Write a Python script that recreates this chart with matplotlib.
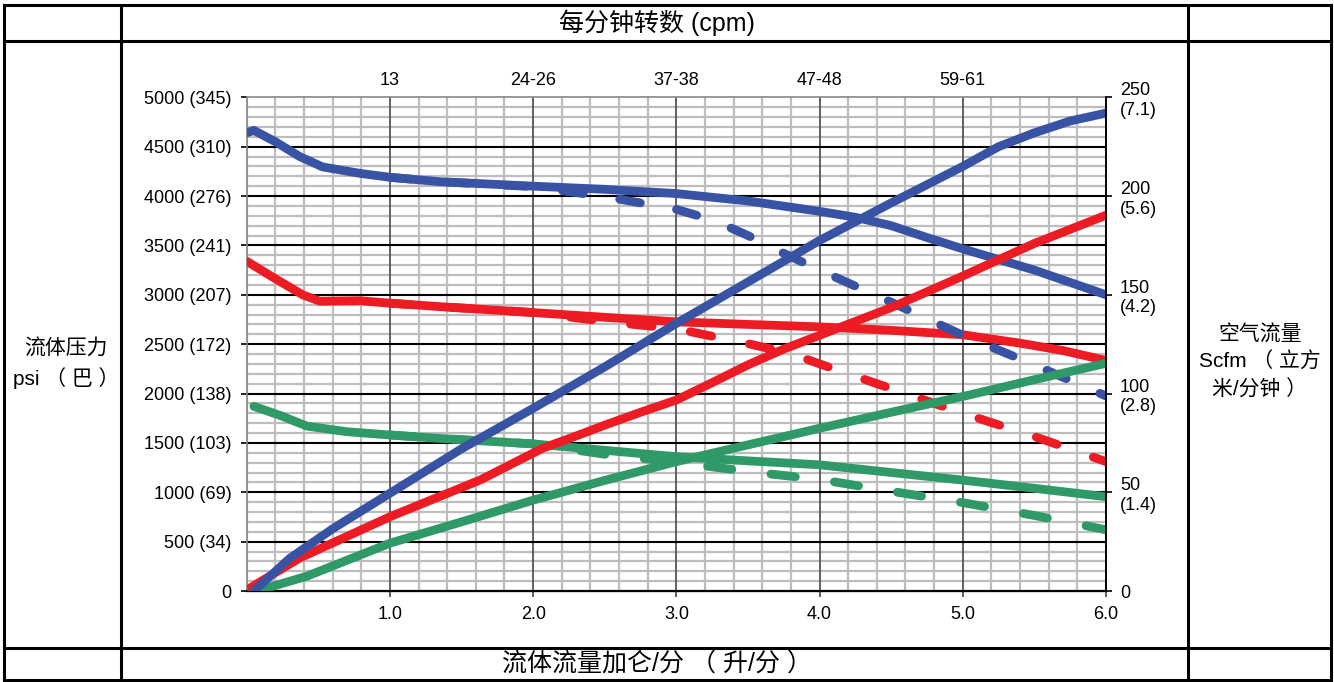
import numpy as np
import matplotlib.pyplot as plt
from matplotlib.lines import Line2D
from matplotlib.ticker import MultipleLocator

plt.rcParams['font.family'] = ['Liberation Sans', 'Noto Sans CJK SC']

W, H = 1334, 682

# fluid pressure curves, psi (solid / dashed)
blue_p_x = [0, 0.05, 0.2, 0.37, 0.53, 0.79, 1.0, 1.35, 2.0, 2.5, 3.0, 3.5, 4.0, 4.25, 4.5, 4.75, 5.0, 5.5, 6.0]
blue_p = [4640, 4665, 4550, 4400, 4295, 4230, 4190, 4145, 4100, 4068, 4025, 3950, 3845, 3785, 3700, 3580, 3465, 3250, 3000]
blue_pd_x = [1.0, 1.35, 2.0, 2.5, 3.0, 3.25, 3.5, 3.75, 4.0, 4.5, 5.0, 5.5, 6.0]
blue_pd = [4190, 4145, 4095, 3995, 3865, 3760, 3600, 3420, 3250, 2925, 2590, 2290, 1975]

red_p_x = [0, 0.18, 0.39, 0.51, 0.79, 1.0, 1.35, 2.0, 2.5, 3.0, 3.5, 4.0, 4.5, 5.0, 5.4, 5.7, 6.0]
red_p = [3340, 3180, 3000, 2935, 2940, 2915, 2880, 2820, 2772, 2726, 2700, 2675, 2640, 2595, 2510, 2435, 2335]
red_pd_x = [1.0, 1.35, 2.0, 2.5, 3.0, 3.5, 3.8, 4.0, 4.5, 5.0, 5.5, 6.0]
red_pd = [2915, 2880, 2820, 2730, 2655, 2505, 2405, 2300, 2050, 1800, 1565, 1310]

green_p_x = [0.05, 0.23, 0.42, 0.7, 1.0, 1.35, 2.0, 2.5, 3.0, 3.5, 4.0, 4.5, 5.0, 5.5, 6.0]
green_p = [1870, 1780, 1670, 1613, 1580, 1545, 1490, 1425, 1360, 1318, 1278, 1200, 1123, 1040, 955]
green_pd_x = [1.0, 1.35, 2.0, 2.5, 3.0, 3.5, 4.0, 4.5, 5.0, 5.5, 6.0]
green_pd = [1580, 1545, 1490, 1385, 1305, 1210, 1130, 1010, 895, 765, 620]

# air flow curves, scfm
blue_a_x = [0.05, 0.3, 0.6, 1.0, 1.5, 2.0, 2.5, 3.0, 3.5, 4.0, 4.5, 5.0, 5.25, 5.5, 5.75, 6.0]
blue_a = [0, 16.5, 31.5, 49.5, 72, 92.5, 113.5, 135.5, 156.5, 177.5, 196.5, 215, 225, 232, 238, 242]
red_a_x = [0, 0.37, 1.0, 1.63, 2.07, 2.3, 2.5, 2.75, 3.0, 3.25, 3.5, 3.75, 4.0, 4.5, 5.0, 5.5, 6.0]
red_a = [0.5, 16.7, 37.6, 56.2, 72.4, 78.5, 84, 90.5, 96.7, 105.5, 114.5, 122.5, 129.5, 143.5, 159.5, 176, 190.3]
green_a_x = [0.07, 0.42, 1.0, 1.5, 2.0, 2.5, 3.0, 3.5, 4.0, 4.5, 5.0, 5.5, 6.0]
green_a = [0, 7.5, 24.2, 35, 46, 56, 65.5, 74, 82.4, 90.5, 98.5, 107, 115.3]

x_ticks = [1, 2, 3, 4, 5, 6]
x_labels = ['1.0', '2.0', '3.0', '4.0', '5.0', '6.0']
cpm_labels = ['13', '24-26', '37-38', '47-48', '59-61']
psi_ticks = [0, 500, 1000, 1500, 2000, 2500, 3000, 3500, 4000, 4500, 5000]
psi_labels = ['0', '500 (34)', '1000 (69)', '1500 (103)', '2000 (138)', '2500 (172)',
              '3000 (207)', '3500 (241)', '4000 (276)', '4500 (310)', '5000 (345)']
air_ticks = [0, 50, 100, 150, 200, 250]
air_labels = ['0', '50\n(1.4)', '100\n(2.8)', '150\n(4.2)', '200\n(5.6)', '250\n(7.1)']

BLUE = '#3953A4'
RED = '#ED1C24'
GREEN = '#2F9A67'
LW = 6.3

fig = plt.figure(figsize=(W / 100, H / 100), dpi=100)
ax = fig.add_axes([246.7 / W, 1 - 591 / H, (1106 - 246.7) / W, (591 - 97.3) / H])
ax.set_xlim(0, 6)
ax.set_ylim(0, 5000)

# grid: light minor lines, major lines drawn on top of them
ax.xaxis.set_minor_locator(MultipleLocator(0.2))
ax.yaxis.set_minor_locator(MultipleLocator(100))
ax.grid(which='minor', axis='both', color='#bdbdbd', lw=1.6)
ax.set_axisbelow(True)
for xv in x_ticks[:-1]:
    ax.axvline(xv, color='#555555', lw=1.3, zorder=1.5)
for yv in psi_ticks[1:-1]:
    ax.axhline(yv, color='black', lw=1.5, zorder=1.6)
ax.tick_params(which='minor', length=0)

ax.set_xticks(x_ticks)
ax.set_xticklabels(x_labels)
ax.set_yticks(psi_ticks)
ax.set_yticklabels(psi_labels)
ax.tick_params(axis='both', which='major', labelsize=13, length=4, width=1.2, pad=7)
ax.tick_params(axis='x', colors='#444444', labelcolor='black')

for s in ['left', 'top']:
    ax.spines[s].set_color('#888888')
    ax.spines[s].set_linewidth(1.2)
ax.spines['bottom'].set_linewidth(1.6)
ax.spines['right'].set_linewidth(1.2)

dash_b = (0, (2.4, 4.2))
dash_r = (0, (2.5, 4.4))
dash_g = (0, (2.8, 4.5))

ax.plot(green_pd_x, green_pd, color=GREEN, lw=LW, ls=dash_g, dash_capstyle='round', zorder=3)
ax.plot(green_p_x, green_p, color=GREEN, lw=LW, solid_capstyle='round', solid_joinstyle='round', zorder=3)
ax.plot(red_pd_x, red_pd, color=RED, lw=LW, ls=dash_r, dash_capstyle='round', zorder=3)
ax.plot(red_p_x, red_p, color=RED, lw=LW, solid_capstyle='round', solid_joinstyle='round', zorder=3)
ax.plot(blue_pd_x, blue_pd, color=BLUE, lw=LW, ls=dash_b, dash_capstyle='round', zorder=3)
ax.plot(blue_p_x, blue_p, color=BLUE, lw=LW, solid_capstyle='round', solid_joinstyle='round', zorder=3)

# air flow on right axis
ax2 = ax.twinx()
ax2.set_ylim(0, 250)
ax2.set_yticks(air_ticks)
ax2.set_yticklabels(air_labels)
ax2.tick_params(axis='y', labelsize=13, length=4, width=1.2, pad=6)
for s in ['left', 'top']:
    ax2.spines[s].set_visible(False)
ax2.spines['right'].set_linewidth(1.2)
ax2.plot(green_a_x, green_a, color=GREEN, lw=LW, solid_capstyle='round', solid_joinstyle='round')
ax2.plot(red_a_x, red_a, color=RED, lw=LW, solid_capstyle='round', solid_joinstyle='round')
ax2.plot(blue_a_x, blue_a, color=BLUE, lw=LW, solid_capstyle='round', solid_joinstyle='round')

# cpm along the top
top = ax.secondary_xaxis('top')
top.set_xticks(x_ticks[:5])
top.set_xticklabels(cpm_labels)
top.tick_params(length=0, labelsize=13, pad=6)
top.spines['top'].set_visible(False)

# table frame
def hline(y, x0=4, x1=1331):
    fig.add_artist(Line2D([x0 / W, x1 / W], [1 - y / H, 1 - y / H], color='black', lw=2.2))

def vline(x, y0=5, y1=680):
    fig.add_artist(Line2D([x / W, x / W], [1 - y0 / H, 1 - y1 / H], color='black', lw=2.2))

for yy in [5, 40.5, 648, 680]:
    hline(yy)
for xx in [4, 121, 1188, 1331]:
    vline(xx)

fig.text(657 / W, 1 - 23 / H, '每分钟转数 (cpm)', ha='center', va='center', fontsize=18)
fig.text(657 / W, 1 - 664 / H, '流体流量加仑/分 （ 升/分 ）', ha='center', va='center', fontsize=18)
fig.text(66 / W, 1 - 364 / H, '流体压力\npsi （ 巴 ）', ha='center', va='center',
         fontsize=15, multialignment='center', linespacing=1.5)
fig.text(1260 / W, 1 - 362 / H, '空气流量\nScfm （ 立方\n米/分钟 ）', ha='center', va='center',
         fontsize=15, multialignment='center', linespacing=1.45)

fig.savefig('out.png', dpi=100)
